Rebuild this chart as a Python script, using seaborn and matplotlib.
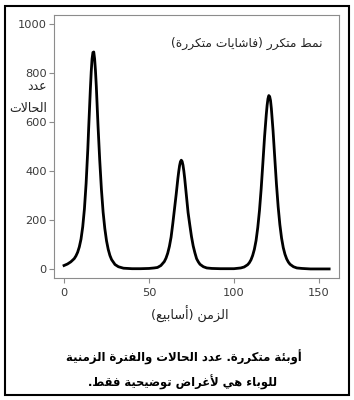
import numpy as np
import pandas as pd
import matplotlib
matplotlib.use('Agg')
import matplotlib.pyplot as plt
import seaborn as sns

# weeks and case counts
weeks = [0, 2, 4, 6, 7, 8, 9, 10, 11, 12, 13, 14, 14.5, 15, 15.5, 16, 16.5, 17, 17.5,
         18, 18.5, 19, 19.5, 20, 21, 22, 23, 24, 25, 26, 27, 28, 30, 32, 35, 40, 45,
         50, 53, 55, 57, 59, 60, 61, 62, 63, 64, 65, 66, 67, 67.5, 68, 68.5, 69, 69.5,
         70, 70.5, 71, 72, 73, 74, 75, 76, 77, 78, 79, 80, 82, 84, 87, 92, 97, 100,
         104, 106, 108, 109, 110, 111, 112, 113, 114, 115, 116, 117, 118, 119, 119.5,
         120, 120.5, 121, 121.5, 122, 123, 124, 125, 126, 127, 128, 129, 130, 131,
         132, 133, 135, 137, 140, 145, 150, 156]
cases = [14, 20, 29, 42, 53, 68, 90, 122, 172, 245, 350, 490, 575, 655, 735, 805, 858,
         884, 886, 858, 810, 745, 665, 585, 445, 325, 232, 165, 115, 80, 55, 38, 18, 9,
         3, 1, 1, 2, 4, 6, 14, 30, 44, 64, 92, 130, 185, 245, 305, 370, 398, 422, 438,
         444, 439, 424, 400, 370, 300, 230, 180, 132, 94, 66, 42, 29, 19, 9, 4, 2, 1, 1,
         1, 4, 8, 17, 25, 37, 55, 80, 116, 169, 238, 327, 432, 540, 630, 668, 695, 708,
         704, 688, 655, 564, 454, 346, 254, 181, 126, 87, 60, 41, 28, 19, 9, 4, 2, 0,
         0, 0]

y_ticks = [0, 200, 400, 600, 800, 1000]
x_ticks = [0, 50, 100, 150]

title_txt = 'نمط متكرر (فاشايات متكررة)'
ylab_top = 'عدد'
ylab_bot = 'الحالات'
xlab_txt = 'الزمن (أسابيع)'
cap1 = 'أوبئة متكررة. عدد الحالات والفترة الزمنية'
cap2 = 'للوباء هي لأغراض توضيحية فقط.'

# --- minimal arabic shaping (matplotlib has no complex text layout) ---
# letter: (isolated code, number of forms)
forms = {
    'ء': (0xFE80, 1), 'آ': (0xFE81, 2), 'أ': (0xFE83, 2), 'ؤ': (0xFE85, 2),
    'إ': (0xFE87, 2), 'ئ': (0xFE89, 4), 'ا': (0xFE8D, 2), 'ب': (0xFE8F, 4),
    'ة': (0xFE93, 2), 'ت': (0xFE95, 4), 'ث': (0xFE99, 4), 'ج': (0xFE9D, 4),
    'ح': (0xFEA1, 4), 'خ': (0xFEA5, 4), 'د': (0xFEA9, 2), 'ذ': (0xFEAB, 2),
    'ر': (0xFEAD, 2), 'ز': (0xFEAF, 2), 'س': (0xFEB1, 4), 'ش': (0xFEB5, 4),
    'ص': (0xFEB9, 4), 'ض': (0xFEBD, 4), 'ط': (0xFEC1, 4), 'ظ': (0xFEC5, 4),
    'ع': (0xFEC9, 4), 'غ': (0xFECD, 4), 'ف': (0xFED1, 4), 'ق': (0xFED5, 4),
    'ك': (0xFED9, 4), 'ل': (0xFEDD, 4), 'م': (0xFEE1, 4), 'ن': (0xFEE5, 4),
    'ه': (0xFEE9, 4), 'و': (0xFEED, 2), 'ى': (0xFEEF, 2), 'ي': (0xFEF1, 4),
}
lam_alef = {'آ': 0xFEF5, 'أ': 0xFEF7, 'إ': 0xFEF9, 'ا': 0xFEFB}


def shape(s):
    # merge lam-alef first
    units = []
    i = 0
    while i < len(s):
        if s[i] == 'ل' and i + 1 < len(s) and s[i + 1] in lam_alef:
            units.append(('LA', s[i + 1]))
            i += 2
        else:
            units.append(('C', s[i]))
            i += 1

    def nforms(u):
        if u[0] == 'LA':
            return 2
        return forms[u[1]][1] if u[1] in forms else 0

    out = []
    for k, u in enumerate(units):
        n = nforms(u)
        prev_join = k > 0 and nforms(units[k - 1]) == 4 and n >= 2
        next_join = n == 4 and k + 1 < len(units) and nforms(units[k + 1]) >= 2
        if u[0] == 'LA':
            out.append(chr(lam_alef[u[1]] + (1 if prev_join else 0)))
            continue
        if n == 0:
            out.append(u[1])
            continue
        base = forms[u[1]][0]
        if prev_join and next_join:
            off = 3
        elif next_join:
            off = 2
        elif prev_join:
            off = 1
        else:
            off = 0
        out.append(chr(base + off))
    vis = ''.join(out)[::-1]
    return vis.translate(str.maketrans('()', ')('))


df = pd.DataFrame({'week': weeks, 'cases': cases})

W, H = 354, 400
fig = plt.figure(figsize=(W / 100, H / 100), dpi=100)
ax = fig.add_axes([54 / W, 1 - 278 / H, (339 - 54) / W, (278 - 15) / H])

sns.lineplot(data=df, x='week', y='cases', color='black', linewidth=2.0, ax=ax)

ax.set_xlim(-5.9, 161.8)
ax.set_ylim(-37, 1037)
ax.set_xticks(x_ticks)
ax.set_yticks(y_ticks)
ax.set_xlabel('')
ax.set_ylabel('')
for sp in ax.spines.values():
    sp.set_color('#8c8c8c')
    sp.set_linewidth(0.8)
ax.tick_params(colors='#8c8c8c', labelcolor='#3a3a3a', labelsize=8.2, length=3.5, width=0.8)
ax.tick_params(axis='y', pad=1.8)

arab = 'DejaVu Sans'
ax.text(152, 922, shape(title_txt), ha='right', va='center', fontsize=8.8,
        family=arab, color='#222222')

fig.text(47 / W, 1 - 86 / H, shape(ylab_top), ha='right', va='center', fontsize=9,
         family=arab, color='#222222')
fig.text(47 / W, 1 - 108 / H, shape(ylab_bot), ha='right', va='center', fontsize=9,
         family=arab, color='#222222')
fig.text(190 / W, 1 - 314 / H, shape(xlab_txt), ha='center', va='center', fontsize=9.2,
         family=arab, color='#222222')
fig.text(184 / W, 1 - 357 / H, shape(cap1), ha='center', va='center', fontsize=8.4,
         family=arab, fontweight='bold', color='black')
fig.text(183 / W, 1 - 382 / H, shape(cap2), ha='center', va='center', fontsize=8.3,
         family=arab, fontweight='bold', color='black')

# outer frame
fig.add_artist(plt.Rectangle((4.5 / W, 5.5 / H), 344 / W, 389 / H, fill=False,
                             edgecolor='black', linewidth=1.5,
                             transform=fig.transFigure))

fig.savefig('out.png', dpi=100)
